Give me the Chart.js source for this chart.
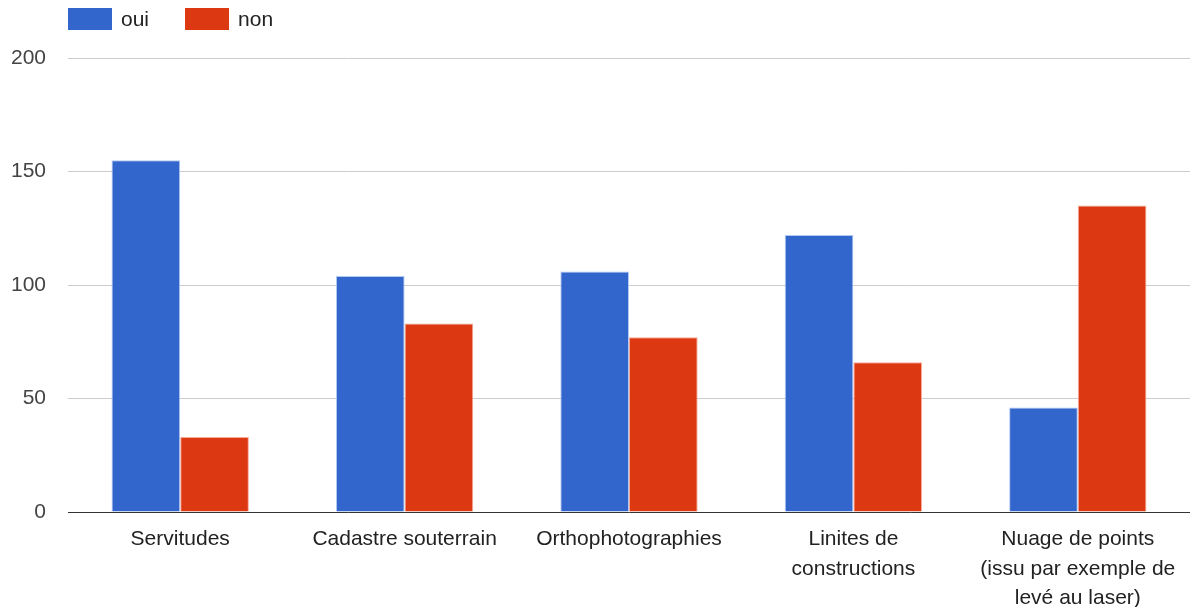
<!DOCTYPE html>
<html>
<head>
<meta charset="utf-8">
<script src="https://cdn.jsdelivr.net/npm/chart.js@4/dist/chart.umd.min.js"></script>
<style>
  html, body { margin: 0; padding: 0; background: #fff; }
  #wrap { width: 1190px; height: 607px; }
</style>
</head>
<body>
<div id="wrap"><canvas id="c" width="1190" height="607"></canvas></div>
<script>
// Categories and answers
const categories = [
  "Servitudes",
  "Cadastre souterrain",
  "Orthophotographies",
  ["Linites de", "constructions"],
  ["Nuage de points", "(issu par exemple de", "levé au laser)"]
];
const seriesNames = ["oui", "non"];
const ouiValues = [155, 104, 106, 122, 46];
const nonValues = [33, 83, 77, 66, 135];
const yTicks = [0, 50, 100, 150, 200];

const colors = ["#3366cc", "#dc3912"];
const edgeColors = ["rgba(170,195,240,0.9)", "rgba(245,160,140,0.9)"];
const fontFamily = "'Liberation Sans', Arial, sans-serif";
const fontSize = 21;

// Legend drawn in the top-left corner, aligned with the plot's left edge
const topLegend = {
  id: "topLegend",
  afterDraw(chart) {
    const ctx = chart.ctx;
    let x = chart.chartArea.left;
    const y = 8, bw = 44, bh = 22;
    ctx.save();
    ctx.font = fontSize + "px " + fontFamily;
    ctx.textBaseline = "middle";
    ctx.textAlign = "left";
    chart.data.datasets.forEach((ds) => {
      ctx.fillStyle = ds.backgroundColor;
      ctx.fillRect(x, y, bw, bh);
      ctx.fillStyle = "#222";
      ctx.fillText(ds.label, x + bw + 9, y + bh / 2 + 1);
      x += bw + 9 + ctx.measureText(ds.label).width + 36;
    });
    ctx.restore();
  }
};

new Chart(document.getElementById("c"), {
  type: "bar",
  data: {
    labels: categories,
    datasets: [
      { label: seriesNames[0], data: ouiValues, backgroundColor: colors[0], borderColor: edgeColors[0], borderWidth: 1 },
      { label: seriesNames[1], data: nonValues, backgroundColor: colors[1], borderColor: edgeColors[1], borderWidth: 1 }
    ]
  },
  options: {
    responsive: false,
    animation: false,
    devicePixelRatio: 1,
    layout: { padding: { top: 58, left: 0, right: 0, bottom: 0 } },
    datasets: { bar: { categoryPercentage: 0.612, barPercentage: 1.0 } },
    font: { family: fontFamily, size: fontSize },
    plugins: {
      legend: { display: false },
      tooltip: { enabled: false }
    },
    scales: {
      x: {
        grid: { display: false, drawTicks: false },
        border: { display: true, color: "#333", width: 1 },
        ticks: {
          color: "#222",
          font: { family: fontFamily, size: fontSize, lineHeight: 1.42 },
          padding: 12,
          maxRotation: 0,
          autoSkip: false
        },
        afterFit(scale) { scale.height = 95; }
      },
      y: {
        min: 0,
        max: 200,
        afterBuildTicks(scale) { scale.ticks = yTicks.map(v => ({ value: v })); },
        grid: {
          drawTicks: false,
          color: (c) => c.tick && c.tick.value === 0 ? "rgba(0,0,0,0)" : "#cccccc",
          lineWidth: 1
        },
        border: { display: false },
        ticks: {
          color: "#444",
          font: { family: fontFamily, size: fontSize },
          padding: 22
        },
        afterFit(scale) { scale.width = 68; }
      }
    }
  },
  plugins: [topLegend]
});
</script>
</body>
</html>
